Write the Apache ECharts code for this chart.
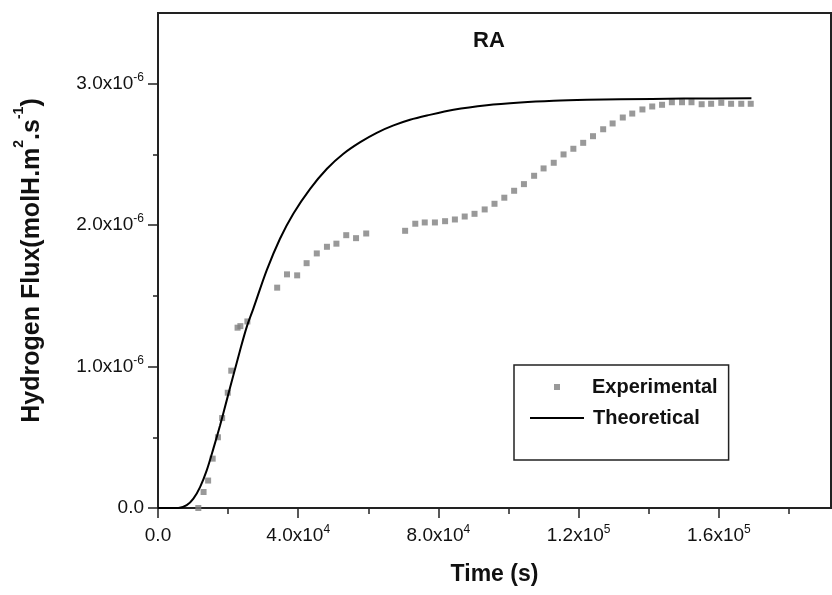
<!DOCTYPE html>
<html lang="en">
<head>
  <meta charset="UTF-8">
  <title>RA hydrogen flux</title>
  <style>
    * { margin: 0; padding: 0; }
    body { background: #fff; }
  </style>
  <script src="https://cdn.jsdelivr.net/npm/echarts@6/dist/echarts.min.js"></script>
</head>
<body>
  <div id="chart" style="width: 832px; height: 595px;"></div>
  <script>
    // experimental points (time in 1e3 s, flux in 1e-6 molH/m2/s)
    const expTimeK = [11.5, 13.0, 14.3, 15.6, 17.1, 18.3, 19.9, 20.9, 22.7, 23.5, 25.5,
      34.0, 36.8, 39.7, 42.4, 45.3, 48.2, 50.9, 53.7, 56.5, 59.4,
      70.5, 73.4, 76.1, 79.0, 81.9, 84.7, 87.5, 90.3, 93.2, 96.0, 98.8, 101.6, 104.4, 107.3,
      110.0, 112.9, 115.7, 118.5, 121.3, 124.1, 127.0, 129.7, 132.6, 135.3, 138.2, 141.0,
      143.8, 146.6, 149.5, 152.2, 155.1, 157.8, 160.7, 163.5, 166.4, 169.1]
    const expFluxU = [0.0, 0.113, 0.194, 0.349, 0.50, 0.636, 0.815, 0.971, 1.275, 1.286, 1.319,
      1.558, 1.652, 1.645, 1.731, 1.80, 1.847, 1.869, 1.929, 1.908, 1.941,
      1.960, 2.010, 2.019, 2.019, 2.028, 2.040, 2.061, 2.080, 2.111, 2.151, 2.194, 2.243, 2.29, 2.349,
      2.401, 2.441, 2.50, 2.54, 2.582, 2.629, 2.678, 2.719, 2.761, 2.789, 2.818, 2.839,
      2.851, 2.869, 2.869, 2.869, 2.855, 2.858, 2.865, 2.858, 2.858, 2.858]

    // theoretical curve
    const theoTimeK = [0, 3, 5.8, 8.2, 10.1, 12.0, 13.9, 15.8, 17.7, 19.6, 21.5, 23.4, 25.3, 27.2,
      31.0, 34.8, 38.6, 43.4, 48.2, 52.9, 57.7, 62.4, 67.2, 71.9, 76.7, 84.3, 93.8,
      103.4, 112.9, 122.4, 131.9, 150, 169.3]
    const theoFluxU = [0, 0, 0, 0.02, 0.066, 0.148, 0.266, 0.42, 0.584, 0.761, 0.938, 1.114, 1.279, 1.41,
      1.68, 1.904, 2.081, 2.257, 2.399, 2.505, 2.587, 2.653, 2.705, 2.745, 2.775, 2.816, 2.848,
      2.867, 2.879, 2.886, 2.89, 2.895, 2.897]

    // axis ticks
    const xMajor = [0, 4e4, 8e4, 1.2e5, 1.6e5]
    const xMinor = [2e4, 6e4, 1e5, 1.4e5, 1.8e5]
    const yMajor = [0, 1e-6, 2e-6, 3e-6]
    const yMinor = [0.5e-6, 1.5e-6, 2.5e-6]

    const font = 'Arial, "Liberation Sans", Helvetica, sans-serif'

    function sci(v) {
      if (Math.abs(v) < 1e-15) return '{m|0.0}'
      const e = Math.floor(Math.log10(Math.abs(v)) + 1e-9)
      const m = v / Math.pow(10, e)
      return '{m|' + m.toFixed(1) + 'x10}{s|' + e + '}'
    }

    const tickRich = {
      m: { fontSize: 19, lineHeight: 24, color: '#111', fontFamily: font },
      s: { fontSize: 12, lineHeight: 10, verticalAlign: 'top', color: '#111', fontFamily: font }
    }
    const legendText = { fontSize: 20, fontWeight: 'bold', color: '#111', fontFamily: font }

    const expData = expTimeK.map((t, i) => [t * 1e3, expFluxU[i] * 1e-6])
    const theoData = theoTimeK.map((t, i) => [t * 1e3, theoFluxU[i] * 1e-6])

    const chart = echarts.init(document.getElementById('chart'))

    const option = {
      backgroundColor: '#fff',
      animation: false,
      title: {
        text: 'RA',
        left: 468,
        top: 25,
        textStyle: { fontSize: 22, fontWeight: 'bold', color: '#111', fontFamily: font }
      },
      grid: {
        left: 158, right: 1, top: 13, bottom: 87,
        show: true, borderColor: '#222', borderWidth: 2, backgroundColor: 'transparent'
      },
      legend: [{
        // box + experimental row
        left: 514, top: 365,
        padding: [12, 11, 63, 40],
        itemWidth: 6, itemHeight: 6,
        borderColor: '#222', borderWidth: 1.5,
        textStyle: Object.assign({ padding: [0, 0, 0, 27] }, legendText),
        data: ['Experimental']
      }, {
        left: 529, top: 408,
        padding: 0,
        itemWidth: 54, itemHeight: 10,
        itemStyle: { color: 'rgba(0,0,0,0)', borderWidth: 0 },
        textStyle: Object.assign({ padding: [0, 0, 0, 4] }, legendText),
        data: ['Theoretical']
      }],
      xAxis: [{
        type: 'value', min: 0, max: 192000,
        name: 'Time (s)', nameLocation: 'middle', nameGap: 55,
        nameTextStyle: { fontSize: 23, fontWeight: 'bold', color: '#111', fontFamily: font },
        axisLine: { lineStyle: { color: '#222', width: 2 } },
        axisTick: { customValues: xMajor, length: 10, lineStyle: { color: '#222', width: 1.5 } },
        axisLabel: { customValues: xMajor, margin: 16, formatter: sci, rich: tickRich },
        splitLine: { show: false }
      }, {
        type: 'value', min: 0, max: 192000, position: 'bottom',
        axisLine: { show: false },
        axisTick: { customValues: xMinor, length: 6, lineStyle: { color: '#222', width: 1.5 } },
        axisLabel: { show: false },
        splitLine: { show: false }
      }],
      yAxis: [{
        type: 'value', min: 0, max: 3.5e-6,
        name: '{b|Hydrogen Flux(molH.m}{s|2}{b|.s}{s|-1}{b|)}',
        nameLocation: 'middle', nameGap: 106, nameRotate: 90,
        nameTextStyle: {
          rich: {
            b: { fontSize: 25, fontWeight: 'bold', lineHeight: 40, color: '#111', fontFamily: font },
            s: { fontSize: 14, fontWeight: 'bold', lineHeight: 10, verticalAlign: 'top', color: '#111', fontFamily: font }
          }
        },
        axisLine: { show: true, lineStyle: { color: '#222', width: 2 } },
        axisTick: { customValues: yMajor, length: 10, lineStyle: { color: '#222', width: 1.5 } },
        axisLabel: { customValues: yMajor, margin: 14, formatter: sci, rich: tickRich },
        splitLine: { show: false }
      }, {
        type: 'value', min: 0, max: 3.5e-6, position: 'left',
        axisLine: { show: false },
        axisTick: { customValues: yMinor, length: 5, lineStyle: { color: '#222', width: 1.5 } },
        axisLabel: { show: false },
        splitLine: { show: false }
      }],
      series: [
        {
          name: 'Experimental', type: 'scatter', data: expData,
          symbol: 'rect', symbolSize: 6,
          itemStyle: { color: '#7f7f7f' }, z: 3
        },
        {
          name: 'Theoretical', type: 'line', data: theoData,
          symbol: 'none', smooth: 0.3,
          lineStyle: { color: '#000', width: 2 },
          itemStyle: { color: '#000' }, z: 4
        }
      ]
    }

    chart.setOption(option)
  </script>
</body>
</html>
